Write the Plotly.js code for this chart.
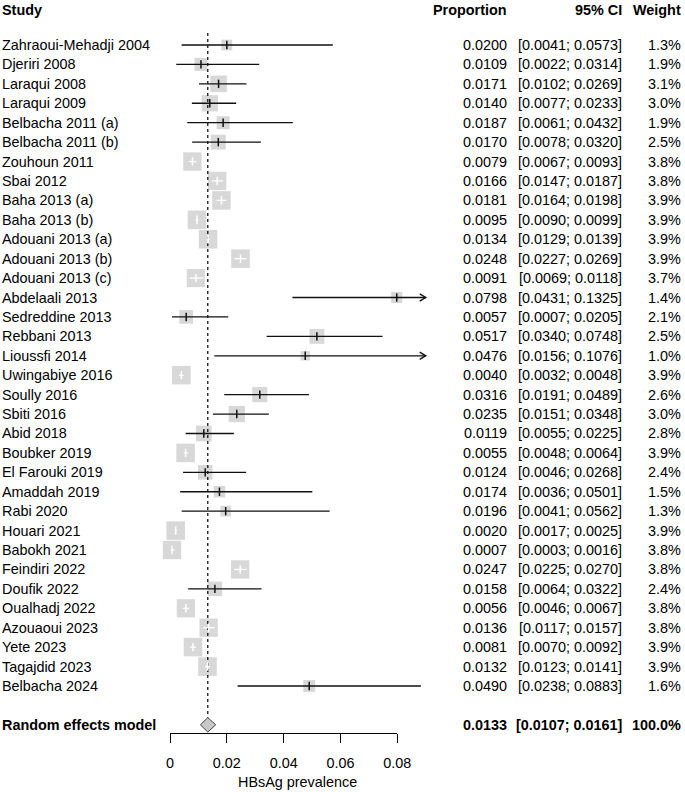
<!DOCTYPE html>
<html>
<head>
<meta charset="utf-8">
<script src="https://cdn.plot.ly/plotly-3.0.1.min.js"></script>
<style>html,body{margin:0;padding:0;background:#fff;}#chart{width:685px;height:792px;}</style>
</head>
<body>
<div id="chart"></div>
<script>
// ---------------- data ----------------
const studies = ["Zahraoui-Mehadji 2004","Djeriri 2008","Laraqui 2008","Laraqui 2009","Belbacha 2011 (a)","Belbacha 2011 (b)","Zouhoun 2011","Sbai 2012","Baha 2013 (a)","Baha 2013 (b)","Adouani 2013 (a)","Adouani 2013 (b)","Adouani 2013 (c)","Abdelaali 2013","Sedreddine 2013","Rebbani 2013","Lioussfi 2014","Uwingabiye 2016","Soully 2016","Sbiti 2016","Abid 2018","Boubker 2019","El Farouki 2019","Amaddah 2019","Rabi 2020","Houari 2021","Babokh 2021","Feindiri 2022","Doufik 2022","Oualhadj 2022","Azouaoui 2023","Yete 2023","Tagajdid 2023","Belbacha 2024"];
const proportion = [0.0200,0.0109,0.0171,0.0140,0.0187,0.0170,0.0079,0.0166,0.0181,0.0095,0.0134,0.0248,0.0091,0.0798,0.0057,0.0517,0.0476,0.0040,0.0316,0.0235,0.0119,0.0055,0.0124,0.0174,0.0196,0.0020,0.0007,0.0247,0.0158,0.0056,0.0136,0.0081,0.0132,0.0490];
const ciLower = [0.0041,0.0022,0.0102,0.0077,0.0061,0.0078,0.0067,0.0147,0.0164,0.0090,0.0129,0.0227,0.0069,0.0431,0.0007,0.0340,0.0156,0.0032,0.0191,0.0151,0.0055,0.0048,0.0046,0.0036,0.0041,0.0017,0.0003,0.0225,0.0064,0.0046,0.0117,0.0070,0.0123,0.0238];
const ciUpper = [0.0573,0.0314,0.0269,0.0233,0.0432,0.0320,0.0093,0.0187,0.0198,0.0099,0.0139,0.0269,0.0118,0.1325,0.0205,0.0748,0.1076,0.0048,0.0489,0.0348,0.0225,0.0064,0.0268,0.0501,0.0562,0.0025,0.0016,0.0270,0.0322,0.0067,0.0157,0.0092,0.0141,0.0883];
const weight = [1.3,1.9,3.1,3.0,1.9,2.5,3.8,3.8,3.9,3.9,3.9,3.9,3.7,1.4,2.1,2.5,1.0,3.9,2.6,3.0,2.8,3.9,2.4,1.5,1.3,3.9,3.8,3.8,2.4,3.8,3.8,3.9,3.9,1.6];
const summaryLabel = "Random effects model";
const summaryEst = 0.0133, summaryLower = 0.0107, summaryUpper = 0.0161, summaryWeight = "100.0%";
const tickValues = [0, 0.02, 0.04, 0.06, 0.08];
const tickLabels = ["0", "0.02", "0.04", "0.06", "0.08"];
const headers = ["Study", "Proportion", "95% CI", "Weight"];
const xLabel = "HBsAg prevalence";

// ---------------- layout geometry ----------------
const W = 685, H = 792;
const PX0 = 170, PXU = 2841.25;      // pixel of 0 and pixels per unit
const ROW0 = 45, ROWH = 19.424;      // pixel of first row, row height
const XMAX = 0.09;                   // plot x-limit (arrows beyond)
const xr = [(0 - PX0) / PXU, (W - PX0) / PXU];
const yr = [(H - ROW0) / ROWH, (0 - ROW0) / ROWH];
const n = studies.length;
const rows = studies.map((_, i) => i);
const sumRow = n + 1;
const headRow = (9.5 - ROW0) / ROWH;
const FONT = "Liberation Sans, Arial, Helvetica, sans-serif";
const FS = 14.4;
const SQK = 9.4;

const sizes = weight.map(w => SQK * Math.sqrt(w));
const inside = rows.map(i => (ciUpper[i] - ciLower[i]) * PXU <= sizes[i]);

// squares
const traces = [];
traces.push({x: proportion, y: rows, type: 'scatter', mode: 'markers', hoverinfo: 'skip',
  marker: {symbol: 'square', size: sizes, color: '#c8c8c8', line: {width: 0}}});

// dotted summary line
traces.push({x: [summaryEst, summaryEst], y: [-0.62, sumRow - 0.36], type: 'scatter', mode: 'lines', hoverinfo: 'skip',
  line: {color: '#000', width: 1.2, dash: 'dot'}});

// CI lines
function buildLines(flag) {
  const xs = [], ys = [];
  rows.forEach(i => {
    if (inside[i] !== flag) return;
    xs.push(Math.max(ciLower[i], 0), Math.min(ciUpper[i], XMAX), null);
    ys.push(i, i, null);
  });
  return {xs, ys};
}
const blk = buildLines(false), wht = buildLines(true);
traces.push({x: blk.xs, y: blk.ys, type: 'scatter', mode: 'lines', hoverinfo: 'skip', line: {color: '#111', width: 1.3}});
traces.push({x: wht.xs, y: wht.ys, type: 'scatter', mode: 'lines', hoverinfo: 'skip', line: {color: '#fff', width: 1.3}});

// arrows for truncated CIs
const ax = [], ay = [];
const dxA = 6 / PXU, dyA = 3.6 / ROWH;
rows.forEach(i => {
  if (ciUpper[i] > XMAX) {
    ax.push(XMAX - dxA, XMAX, XMAX - dxA, null);
    ay.push(i - dyA, i, i + dyA, null);
  }
});
traces.push({x: ax, y: ay, type: 'scatter', mode: 'lines', hoverinfo: 'skip', line: {color: '#111', width: 1.4}});

// point estimate ticks
traces.push({x: rows.filter(i => !inside[i]).map(i => proportion[i]), y: rows.filter(i => !inside[i]),
  type: 'scatter', mode: 'markers', hoverinfo: 'skip',
  marker: {symbol: 'line-ns', size: 6, line: {color: '#111', width: 1.5}}});
traces.push({x: rows.filter(i => inside[i]).map(i => proportion[i]), y: rows.filter(i => inside[i]),
  type: 'scatter', mode: 'markers', hoverinfo: 'skip',
  marker: {symbol: 'line-ns', size: 6, line: {color: '#fff', width: 1.5}}});

// summary diamond
const dh = 7.2 / ROWH;
traces.push({x: [summaryLower, summaryEst, summaryUpper, summaryEst, summaryLower],
  y: [sumRow, sumRow - dh, sumRow, sumRow + dh, sumRow],
  type: 'scatter', mode: 'lines', fill: 'toself', fillcolor: '#c8c8c8', hoverinfo: 'skip',
  line: {color: '#444', width: 1}});

// dummy trace for axis subplot
traces.push({x: [0], y: [0], xaxis: 'x2', yaxis: 'y2', type: 'scatter', mode: 'markers',
  marker: {opacity: 0}, hoverinfo: 'skip'});

// ---------------- text ----------------
const COLX = {study: 1, prop: 508, ci: 623, wt: 682};
const ann = [];
function txt(text, px, row, anchor, bold) {
  ann.push({text: bold ? '<b>' + text + '</b>' : text, x: px / W, xref: 'paper', y: row, yref: 'y',
    xanchor: anchor, yanchor: 'middle', showarrow: false, borderpad: 0,
    font: {family: FONT, size: FS, color: '#000'}});
}
txt(headers[0], COLX.study, headRow, 'left', true);
txt(headers[1], COLX.prop, headRow, 'right', true);
txt(headers[2], COLX.ci, headRow, 'right', true);
txt(headers[3], COLX.wt, headRow, 'right', true);
rows.forEach(i => {
  txt(studies[i], COLX.study, i, 'left', false);
  txt(proportion[i].toFixed(4), COLX.prop, i, 'right', false);
  txt('[' + ciLower[i].toFixed(4) + '; ' + ciUpper[i].toFixed(4) + ']', COLX.ci, i, 'right', false);
  txt(weight[i].toFixed(1) + '%', COLX.wt, i, 'right', false);
});
txt(summaryLabel, COLX.study, sumRow, 'left', true);
txt(summaryEst.toFixed(4), COLX.prop, sumRow, 'right', true);
txt('[' + summaryLower.toFixed(4) + '; ' + summaryUpper.toFixed(4) + ']', COLX.ci, sumRow, 'right', true);
txt(summaryWeight, COLX.wt, sumRow, 'right', true);
// x axis label, centred on the plotting region [0, XMAX]
ann.push({text: xLabel, x: (PX0 + (PX0 + XMAX * PXU)) / 2 / W, xref: 'paper',
  y: (H - 782) / H, yref: 'paper', xanchor: 'center', yanchor: 'middle', showarrow: false, borderpad: 0,
  font: {family: FONT, size: FS, color: '#000'}});

const AXY = 733;
const layout = {
  width: W, height: H,
  margin: {l: 0, r: 0, t: 0, b: 0, pad: 0},
  paper_bgcolor: '#fff', plot_bgcolor: 'rgba(0,0,0,0)',
  showlegend: false,
  xaxis: {domain: [0, 1], range: xr, visible: false, fixedrange: true},
  yaxis: {domain: [0, 1], range: yr, visible: false, fixedrange: true},
  xaxis2: {domain: [PX0 / W, (PX0 + 0.08 * PXU) / W], range: [0, 0.08], anchor: 'y2',
    showline: true, linecolor: '#000', linewidth: 1, showgrid: false, zeroline: false,
    ticks: 'outside', ticklen: 9, tickwidth: 1, tickcolor: '#000', ticklabelstandoff: 8,
    tickvals: tickValues, ticktext: tickLabels,
    tickfont: {family: FONT, size: FS, color: '#000'}, fixedrange: true},
  yaxis2: {domain: [(H - AXY) / H, (H - AXY + 5) / H], visible: false, range: [0, 1], fixedrange: true},
  annotations: ann
};
Plotly.newPlot('chart', traces, layout, {staticPlot: true, displayModeBar: false});
</script>
</body>
</html>
